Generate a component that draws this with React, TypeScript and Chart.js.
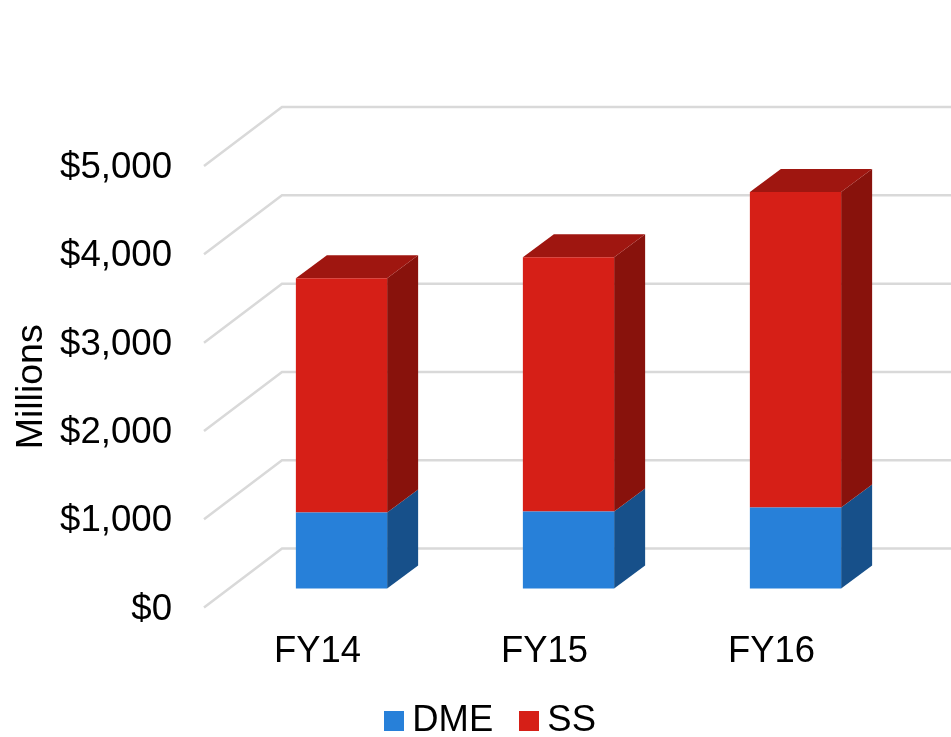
import React, { useEffect, useRef } from "react";
import { Chart, registerables } from "chart.js";

Chart.register(...registerables);

const categories = ["FY14", "FY15", "FY16"];
const dmeValues = [862, 873, 918];
const ssValues = [2653, 2880, 3572];
const seriesColors = { DME: "#2780d9", SS: "#d61f17" };
const sideColors = { DME: "#17508a", SS: "#88120c" };
const topColors = { DME: "#1c5fa3", SS: "#9f1610" };

const FONT = "'Liberation Sans', Arial, sans-serif";
const WALL_DX = 78;
const WALL_DY = -59;
const BAR_DX = 24;
const BAR_DY = -19;
const BAR_DEPTH_X = 31;
const BAR_DEPTH_Y = -23;

function swatch(color: string) {
  const c = document.createElement("canvas");
  c.width = 20;
  c.height = 20;
  const g = c.getContext("2d") as CanvasRenderingContext2D;
  g.fillStyle = color;
  g.fillRect(0, 0, 20, 20);
  return c;
}

const wall3d = {
  id: "wall3d",
  beforeDatasetsDraw(chart: any) {
    const { ctx, chartArea, scales } = chart;
    const y = scales.y;
    ctx.save();
    ctx.strokeStyle = "#d9d9d9";
    ctx.lineWidth = 2.5;
    y.ticks.forEach((t: any) => {
      const py = y.getPixelForValue(t.value);
      ctx.beginPath();
      ctx.moveTo(chartArea.left, py);
      ctx.lineTo(chartArea.left + WALL_DX, py + WALL_DY);
      ctx.lineTo(chartArea.right + WALL_DX, py + WALL_DY);
      ctx.stroke();
    });
    ctx.restore();
    ctx.save();
    ctx.translate(BAR_DX, BAR_DY);
    chart.data.datasets.forEach((ds: any, di: number) => {
      const key = ds.label as "DME" | "SS";
      const meta = chart.getDatasetMeta(di);
      meta.data.forEach((bar: any) => {
        const p = bar.getProps(["x", "y", "base", "width"], true);
        const right = p.x + p.width / 2;
        const left = p.x - p.width / 2;
        ctx.fillStyle = sideColors[key];
        ctx.beginPath();
        ctx.moveTo(right, p.base);
        ctx.lineTo(right + BAR_DEPTH_X, p.base + BAR_DEPTH_Y);
        ctx.lineTo(right + BAR_DEPTH_X, p.y + BAR_DEPTH_Y);
        ctx.lineTo(right, p.y);
        ctx.closePath();
        ctx.fill();
        if (di === chart.data.datasets.length - 1) {
          ctx.fillStyle = topColors[key];
          ctx.beginPath();
          ctx.moveTo(left, p.y);
          ctx.lineTo(left + BAR_DEPTH_X, p.y + BAR_DEPTH_Y);
          ctx.lineTo(right + BAR_DEPTH_X, p.y + BAR_DEPTH_Y);
          ctx.lineTo(right, p.y);
          ctx.closePath();
          ctx.fill();
        }
      });
    });
    ctx.restore();
    ctx.save();
    ctx.translate(BAR_DX, BAR_DY);
  },
  afterDatasetsDraw(chart: any) {
    chart.ctx.restore();
  },
};

export default function App() {
  const ref = useRef<HTMLCanvasElement>(null);
  useEffect(() => {
    const swatches: Record<string, HTMLCanvasElement> = {
      DME: swatch(seriesColors.DME),
      SS: swatch(seriesColors.SS),
    };
    const chart = new Chart(ref.current as HTMLCanvasElement, {
      type: "bar",
      data: {
        labels: categories,
        datasets: [
          { label: "DME", data: dmeValues, backgroundColor: seriesColors.DME, clip: false as any, categoryPercentage: 0.402, barPercentage: 1 },
          { label: "SS", data: ssValues, backgroundColor: seriesColors.SS, clip: false as any, categoryPercentage: 0.402, barPercentage: 1 },
        ],
      },
      options: {
        animation: false,
        responsive: false,
        layout: { padding: { left: 9, right: -30, top: 166, bottom: -12 } },
        scales: {
          x: {
            stacked: true,
            grid: { display: false },
            border: { display: false },
            afterFit: (s: any) => { s.height = 59; },
            ticks: { color: "#000", font: { family: FONT, size: 36.4 }, padding: 15 },
          } as any,
          y: {
            stacked: true,
            min: 0,
            max: 5000,
            grid: { display: false, drawTicks: false },
            border: { display: false },
            afterFit: (s: any) => { s.width = 195; },
            title: { display: true, text: "Millions", color: "#000", font: { family: FONT, size: 37.5 }, padding: 0 },
            ticks: {
              stepSize: 1000,
              color: "#000",
              padding: 32,
              labelOffset: 2,
              font: { family: FONT, size: 36.6 },
              callback: (v: any) => "$" + Number(v).toLocaleString("en-US"),
            },
          },
          spacer: {
            type: "linear",
            position: "right",
            grid: { display: false, drawTicks: false },
            border: { display: false },
            ticks: { display: false },
            afterFit: (s: any) => { s.width = 96; },
          },
        },
        plugins: {
          tooltip: { enabled: false },
          legend: {
            position: "bottom",
            labels: {
              usePointStyle: true,
              boxWidth: 0.01,
              boxHeight: 20,
              color: "#000",
              padding: 36,
              font: { family: FONT, size: 36.4 },
              generateLabels: (c: any) =>
                c.data.datasets.map((d: any, i: number) => ({
                  text: d.label,
                  fontColor: "#000",
                  pointStyle: swatches[d.label],
                  datasetIndex: i,
                  lineWidth: 0,
                })),
            },
          },
        },
      },
      plugins: [wall3d],
    });
    return () => chart.destroy();
  }, []);
  return (
    <div style={{ position: "absolute", left: 0, top: 0, width: 951, height: 737, background: "#fff" }}>
      <canvas ref={ref} width={951} height={737} style={{ display: "block" }} />
    </div>
  );
}
